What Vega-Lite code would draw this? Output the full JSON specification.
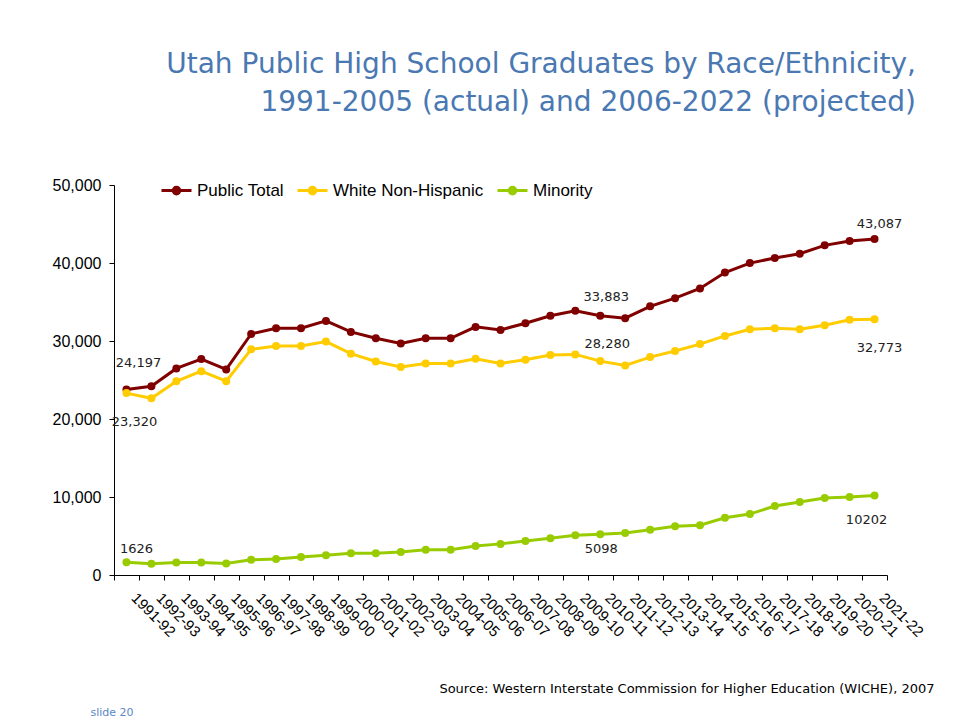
{
  "$schema": "https://vega.github.io/schema/vega-lite/v6.json",
  "autosize": "none",
  "width": 773,
  "height": 390,
  "padding": {"left": 114, "top": 185, "right": 79, "bottom": 148},
  "background": "white",
  "title": {
    "text": ["Utah Public High School Graduates by Race/Ethnicity,", "1991-2005 (actual) and 2006-2022 (projected)"],
    "anchor": "end",
    "dx": -18,
    "offset": 57,
    "font": "DejaVu Sans",
    "fontSize": 28,
    "fontWeight": "normal",
    "color": "#4A78B2",
    "lineHeight": 38
  },
  "datasets": {
    "grads": [
      {"year": "1991-92", "series": "Public Total", "value": 23770, "label": "24,197"},
      {"year": "1992-93", "series": "Public Total", "value": 24197},
      {"year": "1993-94", "series": "Public Total", "value": 26480},
      {"year": "1994-95", "series": "Public Total", "value": 27680},
      {"year": "1995-96", "series": "Public Total", "value": 26350},
      {"year": "1996-97", "series": "Public Total", "value": 30900},
      {"year": "1997-98", "series": "Public Total", "value": 31640},
      {"year": "1998-99", "series": "Public Total", "value": 31640},
      {"year": "1999-00", "series": "Public Total", "value": 32580},
      {"year": "2000-01", "series": "Public Total", "value": 31160},
      {"year": "2001-02", "series": "Public Total", "value": 30350},
      {"year": "2002-03", "series": "Public Total", "value": 29680},
      {"year": "2003-04", "series": "Public Total", "value": 30350},
      {"year": "2004-05", "series": "Public Total", "value": 30350},
      {"year": "2005-06", "series": "Public Total", "value": 31810},
      {"year": "2006-07", "series": "Public Total", "value": 31420},
      {"year": "2007-08", "series": "Public Total", "value": 32280},
      {"year": "2008-09", "series": "Public Total", "value": 33230},
      {"year": "2009-10", "series": "Public Total", "value": 33883, "label": "33,883"},
      {"year": "2010-11", "series": "Public Total", "value": 33230},
      {"year": "2011-12", "series": "Public Total", "value": 32930},
      {"year": "2012-13", "series": "Public Total", "value": 34440},
      {"year": "2013-14", "series": "Public Total", "value": 35490},
      {"year": "2014-15", "series": "Public Total", "value": 36740},
      {"year": "2015-16", "series": "Public Total", "value": 38780},
      {"year": "2016-17", "series": "Public Total", "value": 39990},
      {"year": "2017-18", "series": "Public Total", "value": 40630},
      {"year": "2018-19", "series": "Public Total", "value": 41190},
      {"year": "2019-20", "series": "Public Total", "value": 42260},
      {"year": "2020-21", "series": "Public Total", "value": 42820},
      {"year": "2021-22", "series": "Public Total", "value": 43087, "label": "43,087"},
      {"year": "1991-92", "series": "White Non-Hispanic", "value": 23320, "label": "23,320"},
      {"year": "1992-93", "series": "White Non-Hispanic", "value": 22650},
      {"year": "1993-94", "series": "White Non-Hispanic", "value": 24840},
      {"year": "1994-95", "series": "White Non-Hispanic", "value": 26130},
      {"year": "1995-96", "series": "White Non-Hispanic", "value": 24840},
      {"year": "1996-97", "series": "White Non-Hispanic", "value": 28930},
      {"year": "1997-98", "series": "White Non-Hispanic", "value": 29350},
      {"year": "1998-99", "series": "White Non-Hispanic", "value": 29350},
      {"year": "1999-00", "series": "White Non-Hispanic", "value": 29920},
      {"year": "2000-01", "series": "White Non-Hispanic", "value": 28370},
      {"year": "2001-02", "series": "White Non-Hispanic", "value": 27380},
      {"year": "2002-03", "series": "White Non-Hispanic", "value": 26680},
      {"year": "2003-04", "series": "White Non-Hispanic", "value": 27120},
      {"year": "2004-05", "series": "White Non-Hispanic", "value": 27120},
      {"year": "2005-06", "series": "White Non-Hispanic", "value": 27730},
      {"year": "2006-07", "series": "White Non-Hispanic", "value": 27120},
      {"year": "2007-08", "series": "White Non-Hispanic", "value": 27600},
      {"year": "2008-09", "series": "White Non-Hispanic", "value": 28200},
      {"year": "2009-10", "series": "White Non-Hispanic", "value": 28280, "label": "28,280"},
      {"year": "2010-11", "series": "White Non-Hispanic", "value": 27420},
      {"year": "2011-12", "series": "White Non-Hispanic", "value": 26860},
      {"year": "2012-13", "series": "White Non-Hispanic", "value": 27940},
      {"year": "2013-14", "series": "White Non-Hispanic", "value": 28710},
      {"year": "2014-15", "series": "White Non-Hispanic", "value": 29600},
      {"year": "2015-16", "series": "White Non-Hispanic", "value": 30650},
      {"year": "2016-17", "series": "White Non-Hispanic", "value": 31510},
      {"year": "2017-18", "series": "White Non-Hispanic", "value": 31640},
      {"year": "2018-19", "series": "White Non-Hispanic", "value": 31510},
      {"year": "2019-20", "series": "White Non-Hispanic", "value": 32030},
      {"year": "2020-21", "series": "White Non-Hispanic", "value": 32710},
      {"year": "2021-22", "series": "White Non-Hispanic", "value": 32773, "label": "32,773"},
      {"year": "1991-92", "series": "Minority", "value": 1626, "label": "1626"},
      {"year": "1992-93", "series": "Minority", "value": 1445},
      {"year": "1993-94", "series": "Minority", "value": 1610},
      {"year": "1994-95", "series": "Minority", "value": 1610},
      {"year": "1995-96", "series": "Minority", "value": 1490},
      {"year": "1996-97", "series": "Minority", "value": 1960},
      {"year": "1997-98", "series": "Minority", "value": 2050},
      {"year": "1998-99", "series": "Minority", "value": 2310},
      {"year": "1999-00", "series": "Minority", "value": 2520},
      {"year": "2000-01", "series": "Minority", "value": 2780},
      {"year": "2001-02", "series": "Minority", "value": 2780},
      {"year": "2002-03", "series": "Minority", "value": 2950},
      {"year": "2003-04", "series": "Minority", "value": 3250},
      {"year": "2004-05", "series": "Minority", "value": 3250},
      {"year": "2005-06", "series": "Minority", "value": 3720},
      {"year": "2006-07", "series": "Minority", "value": 3990},
      {"year": "2007-08", "series": "Minority", "value": 4370},
      {"year": "2008-09", "series": "Minority", "value": 4710},
      {"year": "2009-10", "series": "Minority", "value": 5098, "label": "5098"},
      {"year": "2010-11", "series": "Minority", "value": 5230},
      {"year": "2011-12", "series": "Minority", "value": 5400},
      {"year": "2012-13", "series": "Minority", "value": 5790},
      {"year": "2013-14", "series": "Minority", "value": 6260},
      {"year": "2014-15", "series": "Minority", "value": 6390},
      {"year": "2015-16", "series": "Minority", "value": 7340},
      {"year": "2016-17", "series": "Minority", "value": 7810},
      {"year": "2017-18", "series": "Minority", "value": 8840},
      {"year": "2018-19", "series": "Minority", "value": 9350},
      {"year": "2019-20", "series": "Minority", "value": 9870},
      {"year": "2020-21", "series": "Minority", "value": 10000},
      {"year": "2021-22", "series": "Minority", "value": 10202, "label": "10202"}
    ]
  },
  "data": {"name": "grads"},
  "encoding": {
    "x": {
      "field": "year",
      "type": "ordinal",
      "bandPosition": 0.5,
      "scale": {"type": "band", "paddingInner": 0, "paddingOuter": 0},
      "axis": {
        "title": "Source:  Western Interstate Commission for Higher Education (WICHE), 2007",
        "titleX": 820,
        "titleY": 113,
        "titleAlign": "right",
        "titleAnchor": "end",
        "titleBaseline": "middle",
        "titleFont": "DejaVu Sans",
        "titleFontSize": 13,
        "titleFontWeight": "normal",
        "titleColor": "#000000",
        "tickBand": "extent",
        "tickSize": 5,
        "tickColor": "#000000",
        "domainColor": "#000000",
        "labelAngle": 45,
        "labelAlign": "left",
        "labelBaseline": "top",
        "labelPadding": 10,
        "labelOffset": 12,
        "labelFont": "Liberation Sans",
        "labelFontSize": 15,
        "labelColor": "#000000",
        "grid": false
      }
    },
    "y": {
      "field": "value",
      "type": "quantitative",
      "scale": {"domain": [0, 50000], "nice": false},
      "axis": {
        "values": [0, 10000, 20000, 30000, 40000, 50000],
        "format": ",d",
        "title": "slide 20",
        "titleAngle": 0,
        "titleX": -24,
        "titleY": 527,
        "titleAlign": "left",
        "titleBaseline": "middle",
        "titleFont": "DejaVu Sans",
        "titleFontSize": 11,
        "titleFontWeight": "normal",
        "titleColor": "#5B86C5",
        "tickSize": 5,
        "tickColor": "#000000",
        "domainColor": "#000000",
        "labelFont": "Liberation Sans",
        "labelFontSize": 16,
        "labelColor": "#000000",
        "labelPadding": 8,
        "grid": false
      }
    },
    "color": {
      "field": "series",
      "type": "nominal",
      "sort": ["Public Total", "White Non-Hispanic", "Minority"],
      "scale": {
        "domain": ["Public Total", "White Non-Hispanic", "Minority"],
        "range": ["#800000", "#FFCC00", "#99CC00"]
      },
      "legend": {
        "title": null,
        "orient": "none",
        "direction": "horizontal",
        "legendX": 46,
        "legendY": -11,
        "symbolType": "M-1,0H1M-0.22,0A0.22,0.22 0 1 1 0.22,0A0.22,0.22 0 1 1 -0.22,0Z",
        "symbolSize": 900,
        "symbolStrokeWidth": 3,
        "labelFont": "Liberation Sans",
        "labelFontSize": 17,
        "labelColor": "#000000",
        "labelOffset": 4,
        "columnPadding": 7
      }
    }
  },
  "layer": [
    {"mark": {"type": "line", "strokeWidth": 3}},
    {"mark": {"type": "point", "filled": true, "opacity": 1, "size": 64}},
    {
      "transform": [{"filter": "datum.label && datum.series == 'Public Total' && datum.year == '1991-92'"}],
      "mark": {"type": "text", "dx": 12, "dy": -27, "font": "DejaVu Sans", "fontSize": 13},
      "encoding": {"text": {"field": "label"}, "color": {"value": "#222222"}}
    },
    {
      "transform": [{"filter": "datum.label && datum.series == 'White Non-Hispanic' && datum.year == '1991-92'"}],
      "mark": {"type": "text", "dx": 8, "dy": 29, "font": "DejaVu Sans", "fontSize": 13},
      "encoding": {"text": {"field": "label"}, "color": {"value": "#222222"}}
    },
    {
      "transform": [{"filter": "datum.label && datum.series == 'Minority' && datum.year == '1991-92'"}],
      "mark": {"type": "text", "dx": 10, "dy": -13, "font": "DejaVu Sans", "fontSize": 13},
      "encoding": {"text": {"field": "label"}, "color": {"value": "#222222"}}
    },
    {
      "transform": [{"filter": "datum.label && datum.series == 'Public Total' && datum.year == '2009-10'"}],
      "mark": {"type": "text", "dx": 31, "dy": -14, "font": "DejaVu Sans", "fontSize": 13},
      "encoding": {"text": {"field": "label"}, "color": {"value": "#222222"}}
    },
    {
      "transform": [{"filter": "datum.label && datum.series == 'White Non-Hispanic' && datum.year == '2009-10'"}],
      "mark": {"type": "text", "dx": 32, "dy": -10, "font": "DejaVu Sans", "fontSize": 13},
      "encoding": {"text": {"field": "label"}, "color": {"value": "#222222"}}
    },
    {
      "transform": [{"filter": "datum.label && datum.series == 'Minority' && datum.year == '2009-10'"}],
      "mark": {"type": "text", "dx": 26, "dy": 14, "font": "DejaVu Sans", "fontSize": 13},
      "encoding": {"text": {"field": "label"}, "color": {"value": "#222222"}}
    },
    {
      "transform": [{"filter": "datum.label && datum.series == 'Public Total' && datum.year == '2021-22'"}],
      "mark": {"type": "text", "dx": 5, "dy": -15, "font": "DejaVu Sans", "fontSize": 13},
      "encoding": {"text": {"field": "label"}, "color": {"value": "#222222"}}
    },
    {
      "transform": [{"filter": "datum.label && datum.series == 'White Non-Hispanic' && datum.year == '2021-22'"}],
      "mark": {"type": "text", "dx": 5, "dy": 29, "font": "DejaVu Sans", "fontSize": 13},
      "encoding": {"text": {"field": "label"}, "color": {"value": "#222222"}}
    },
    {
      "transform": [{"filter": "datum.label && datum.series == 'Minority' && datum.year == '2021-22'"}],
      "mark": {"type": "text", "dx": -8, "dy": 25, "font": "DejaVu Sans", "fontSize": 13},
      "encoding": {"text": {"field": "label"}, "color": {"value": "#222222"}}
    }
  ],
  "config": {
    "view": {"stroke": null}
  }
}
